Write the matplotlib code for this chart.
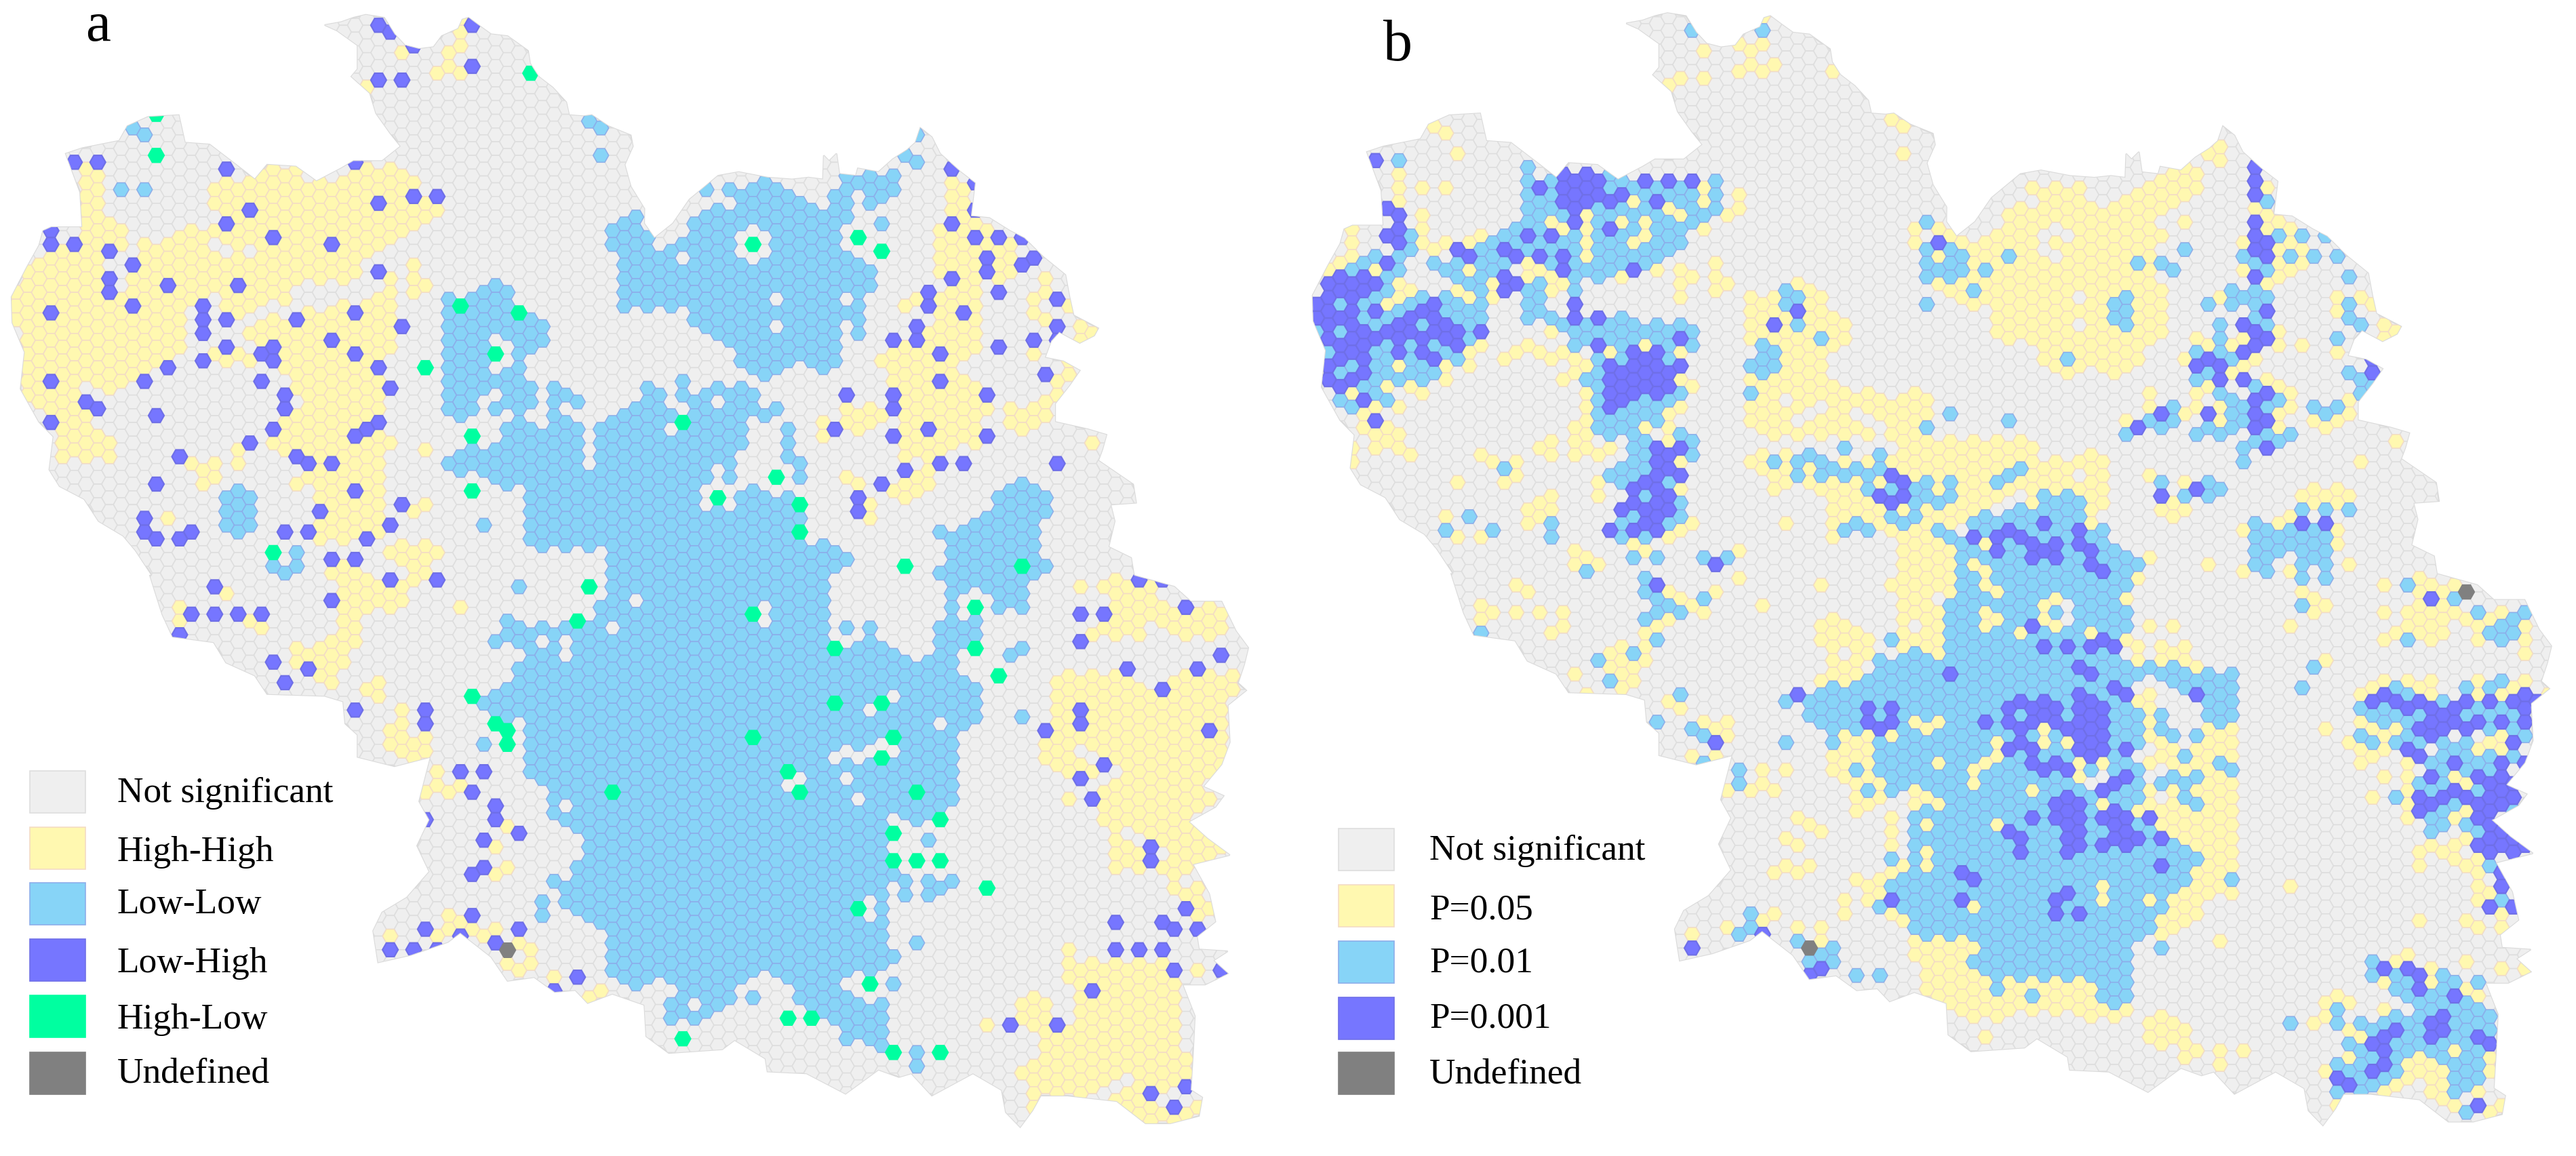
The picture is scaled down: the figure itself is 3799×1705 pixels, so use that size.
import numpy as np
import matplotlib
matplotlib.use("Agg")
import matplotlib.pyplot as plt
from matplotlib.collections import PolyCollection
from matplotlib.patches import PathPatch, Rectangle
from matplotlib.path import Path

plt.rcParams['font.family'] = ['Liberation Serif', 'DejaVu Serif']

LEGEND_A = ['Not significant', 'High-High', 'Low-Low', 'Low-High', 'High-Low', 'Undefined']
LEGEND_B = ['Not significant', 'P=0.05', 'P=0.01', 'P=0.001', 'Undefined']
COLORS = {'G': '#EFEFEF', 'Y': '#FFF8B0', 'L': '#87D4F7', 'P': '#7676FF', 'H': '#00FFA0', 'U': '#808080'}
EDGES = {'G': '#DEDEDE', 'Y': '#F3DCC4', 'L': '#8CAEEA', 'P': '#6F6FE8', 'H': '#00FFA0', 'U': '#808080'}
EDGE_WIDTHS = {'G': 1.1, 'Y': 1.1, 'L': 1.1, 'P': 1.6, 'H': 1.6, 'U': 1.6}

# Readings are stored per picture quadrant: (quadrant, x, y)
Q = {1: (0, 0, 1.65, 1.845), 2: (950, 0, 1.65, 1.845), 3: (0, 850, 1.65, 1.832), 4: (950, 850, 1.65, 1.832),
     5: (1900, 0, 1.65, 1.845), 6: (2850, 0, 1.652, 1.845), 7: (1900, 850, 1.65, 1.832), 8: (2850, 850, 1.652, 1.832),
     9: (2550, 650, 2.0907, 1.845), 10: (3380, 840, 3.0, 2.8)}

OUTLINE = [
 (1, [(790,70),(830,62),(860,50),(890,42),(935,50),(960,95),(985,125),(1020,135),(1055,130),(1075,100),(1115,80),(1125,55),(1140,50),(1170,75),(1195,95),(1235,100),(1285,140),(1290,175),(1310,210),(1345,240),(1378,280),(1385,315),(1420,318),(1440,315),(1480,345),(1535,370),(1540,400),(1520,450),(1535,510),(1568,570)]),
 (2, [(0,610),(25,650),(70,610),(110,545),(180,480),(230,470),(300,485),(360,490),(400,485),(435,490),(437,425),(450,440),(468,420),(475,475),(515,480),(520,460),(570,470),(605,435),(640,410),(660,390),(672,350),(700,375),(720,420),(770,470),(805,500),(795,590),(840,595),(890,630),(925,650),(970,700),(1025,750),(1035,810),(1045,860),(1105,895),(1095,915),(1060,935),(1010,905),(990,930),(975,975),(1020,985),(1060,1010),(1035,1050),(1000,1100),(1000,1150),(1080,1170),(1125,1185),(1115,1225),(1105,1255),(1190,1320),(1197,1370),(1135,1375),(1145,1420),(1130,1490),(1185,1520),(1192,1568)]),
 (4, [(1290,30),(1330,70),(1405,70),(1440,150),(1470,195),(1460,240),(1445,290),(1465,310),(1420,350),(1425,450),(1405,510),(1360,570),(1410,595),(1390,625),(1325,665),(1370,710),(1425,755),(1335,780),(1375,860),(1390,935),(1345,975),(1350,1010),(1420,1015),(1385,1040),(1420,1075),(1365,1105),(1310,1105),(1340,1190),(1335,1300),(1330,1390),(1358,1410),(1350,1460),(1280,1480),(1220,1480),(1150,1420),(1030,1405),(965,1405),(945,1445),(915,1490),(880,1450),(870,1390),(800,1345),(700,1405),(650,1345),(620,1355),(570,1335),(490,1400),(395,1345),(300,1340),(295,1305),(220,1255),(190,1280),(60,1290),(5,1245)]),
 (3, [(1568,1160),(1490,1130),(1430,1155),(1400,1120),(1350,1125),(1300,1085),(1235,1095),(1195,1030),(1120,965),(1090,990),(1000,1025),(920,1045),(908,960),(930,910),(990,870),(1045,800),(1015,730),(1045,660),(1020,610),(1048,490),(960,515),(870,490),(870,430),(840,400),(835,340),(790,325),(650,320),(620,270),(550,235),(520,180),(420,165),(395,105),(365,0)]),
 (1, [(370,1568),(330,1500),(300,1460),(240,1420),(205,1360),(145,1325),(120,1280),(130,1190),(95,1150),(50,1060),(60,960),(30,880),(28,810),(65,730),(95,670),(105,630),(125,620),(200,620),(195,525),(160,420),(200,405),(290,385),(310,345),(360,320),(435,315),(450,390),(510,395),(580,455),(620,490),(650,450),(720,455),(770,495),(830,460),(860,440),(930,440),(975,400),(950,365),(915,310),(900,255),(855,210),(870,190),(870,125),(820,85)]),
]

# ---------- Panel a: Local Moran cluster classes ----------
A_YELLOW_AREAS = [
 (1, [(195,450),(255,450),(255,570),(315,640),(315,670),(200,680),(175,570)]),
 (1, [(20,820),(70,720),(100,680),(250,670),(250,800),(310,790),(330,660),(420,640),(510,610),(510,700),(700,700),(700,820),(620,830),(590,900),(510,800),(450,860),(455,930),(420,970),(340,1010),(310,1085),(250,1050),(180,1050),(190,1100),(255,1170),(280,1250),(145,1250),(125,1270),(130,1190),(100,1130),(50,1060),(60,960),(30,880)]),
 (1, [(510,520),(540,470),(620,495),(655,450),(720,455),(770,500),(830,470),(865,455),(950,440),(1025,490),(1025,520),(1080,555),(1080,590),(1040,610),(990,640),(940,660),(940,690),(880,690),(880,760),(800,770),(740,760),(700,810),(640,810),(640,700),(510,640),(530,600)]),
 (1, [(600,880),(620,890),(710,850),(800,830),(880,830),(910,800),(960,740),(970,900),(965,950),(880,1000),(940,1040),(940,1150),(870,1160),(960,1190),(940,1250),(940,1450),(850,1470),(770,1470),(770,1340),(710,1320),(710,1290),(790,1280),(700,1260),(650,1220),(650,1180),(690,1110),(740,1100),(680,1020),(650,940),(600,920)]),
 (1, [(950,1470),(980,1470),(1065,1490),(1065,1510),(1035,1568),(950,1530),(935,1510)]),
 (1, [(790,1550),(880,1530),(880,1568),(770,1568)]),
 (3, [(770,0),(1020,0),(1000,60),(990,100),(880,90),(880,180),(850,200),(850,230),(820,250),(820,285),(780,300),(760,280),(710,220),(720,195),(820,170),(820,90),(840,30)]),
 (3, [(940,415),(1050,435),(1050,470),(1000,510),(940,480)]),
 (2, [(735,490),(790,490),(790,590),(825,610),(880,640),(905,680),(905,740),(860,770),(820,770),(820,900),(820,950),(790,980),(740,1000),(740,1010),(790,1020),(820,1040),(850,1100),(820,1130),(820,1200),(790,1220),(730,1235),(700,1260),(710,1310),(650,1360),(620,1360),(590,1340),(565,1360),(590,1380),(550,1415),(535,1360),(620,1300),(680,1260),(620,1250),(620,1130),(590,1120),(590,1020),(565,975),(620,920),(705,900),(705,830),(620,840),(650,800),(730,790),(705,740)]),
 (4, [(1110,0),(1250,0),(1250,60),(1320,80),(1410,80),(1435,170),(1280,175),(1265,130),(1220,140),(1220,170),(1080,170),(1080,130),(1140,100),(1110,50)]),
 (4, [(990,300),(1030,260),(1140,260),(1220,310),(1250,280),(1300,255),(1425,260),(1465,310),(1425,350),(1425,450),(1405,510),(1360,570),(1410,595),(1330,660),(1420,740),(1425,760),(1335,780),(1390,930),(1345,940),(1300,880),(1280,820),(1250,790),(1130,810),(1140,690),(1100,680),(1100,560),(1020,540),(990,530),(960,470),(990,400)]),
 (4, [(1020,1000),(1050,1000),(1050,1050),(1130,1030),(1270,1040),(1310,1100),(1310,1300),(1335,1300),(1330,1390),(1358,1410),(1350,1460),(1280,1480),(1220,1480),(1150,1420),(1030,1405),(965,1405),(945,1445),(930,1430),(930,1370),(905,1340),(965,1300),(960,1240),(905,1190),(905,1150),(950,1125),(990,1160),(1040,1220),(1060,1170),(1020,1080)]),
]
A_BLUE_AREAS = [
 (1, [(535,1360),(565,1340),(620,1325),(625,1470),(560,1450),(535,1420)]),
 (1, [(1075,800),(1140,800),(1190,760),(1250,780),(1250,810),(1225,850),(1310,850),(1338,880),(1338,925),(1285,960),(1285,1030),(1310,1060),(1340,1040),(1420,1080),(1420,1100),(1360,1120),(1300,1110),(1240,1120),(1165,1130),(1100,1160),(1075,1120)]),
 (1, [(1075,1250),(1140,1215),(1220,1220),(1200,1160),(1240,1140),(1290,1140),(1340,1120),(1420,1140),(1425,1270),(1445,1270),(1450,1140),(1568,1100),(1568,1568),(1480,1568),(1480,1490),(1370,1510),(1280,1470),(1280,1340),(1190,1300),(1140,1300),(1075,1265)]),
 (1, [(1474,620),(1545,575),(1568,600),(1568,850),(1510,850),(1505,680),(1474,680)]),
 (2, [(0,610),(25,680),(90,650),(110,590),(190,570),(250,500),(300,490),(340,520),(420,570),(510,500),(480,480),(620,470),(625,530),(565,570),(510,545),(510,600),(480,600),(480,680),(565,720),(565,790),(540,800),(540,915),(480,930),(480,990),(420,1030),(380,1000),(290,1030),(220,980),(220,950),(130,920),(110,850),(0,850)]),
 (2, [(0,1050),(50,1050),(80,1090),(135,1060),(250,1050),(280,1030),(280,1100),(340,1100),(310,1140),(250,1130),(250,1210),(225,1220),(225,1300),(140,1320),(170,1360),(220,1330),(320,1330),(390,1340),(395,1470),(480,1490),(510,1510),(480,1568),(0,1568)]),
 (2, [(850,1330),(890,1310),(960,1310),(995,1330),(995,1400),(965,1420),(965,1500),(995,1520),(995,1545),(960,1568),(740,1568),(735,1450),(790,1420),(850,1380)]),
 (4, [(0,0),(450,0),(450,170),(500,210),(520,165),(590,170),(600,210),(665,250),(710,200),(710,110),(765,110),(790,120),(850,125),(800,170),(765,200),(765,260),(825,280),(825,410),(765,420),(765,600),(740,650),(650,670),(595,650),(595,800),(620,800),(590,880),(560,880),(590,960),(595,1000),(565,1020),(590,1060),(520,1080),(480,1090),(520,1130),(590,1130),(595,1260),(590,1290),(450,1210),(360,1130),(300,1070),(250,1090),(220,1130),(200,1160),(165,1170),(150,1210),(50,1210),(50,1150),(80,1110),(0,1105)]),
 (4, [(705,0),(935,0),(935,85),(905,105),(850,85),(850,50),(790,30),(765,50),(760,100),(735,80),(735,30)]),
 (3, [(1568,0),(1480,0),(1450,100),(1400,130),(1230,120),(1190,165),(1250,170),(1280,230),(1250,265),(1190,300),(1160,345),(1225,400),(1280,400),(1280,540),(1340,600),(1340,670),(1420,680),(1420,780),(1390,790),(1390,830),(1340,820),(1340,850),(1420,930),(1475,970),(1480,1050),(1510,1110),(1568,1110)]),
]
A_GREY_CELLS = {
 1: [(1207,920),(1235,957),(1207,993),(1235,975),(1178,1085),(1207,1067),(1320,1067),(1380,1103),(1320,1140)],
 2: [(92,700),(264,627),(235,645),(292,645),(235,683),(292,683),(264,702),(323,812),(323,885),(493,812),(493,885),(207,553),(522,540),(80,1100),(108,1120),(52,1160),(108,1160),(80,1178),(178,1085),(178,1300),(150,1320),(207,1320),(150,1360),(207,1360),(323,1325)],
 3: [(1490,125),(1320,195),(1378,195),(1378,232),(1378,630),(1378,810),(1550,50)],
 4: [(295,68),(295,105),(607,340),(550,378),(722,415),(465,505),(493,487),(520,505),(550,487),(578,470),(607,487),(493,542),(520,615),(380,560),(352,580),(550,875),(550,925),(550,1147),(122,1162),(237,1128),(493,1108),(521,1090),(65,1125),(37,1108),(807,35),(1120,560),(1150,540),(1063,490),(1092,487),(1035,560),(1178,690),(1207,707),(1265,760),(1320,833),(1178,1365),(1150,1382),(1120,1400),(1090,1410),(1290,1400),(1265,1420),(1320,1420)],
}
A_YELLOW_CELLS = {
 1: [(1007,720),(1007,757),(1007,793),(1035,775),(950,757),(950,793),(1035,1215),(577,1215),(577,1250),(465,1250),(493,1268),(522,1250),(522,1285),(493,1305),(408,1398),(1035,1360),(1007,1380),(550,975),(577,957),(522,957),(607,975),(979,148),(1063,205),(1092,150),(1120,130),(1092,185),(1120,205),(1120,95),(890,240),(1127,70)],
 2: [(493,1105),(550,1105),(493,1140),(520,1122),(548,1140),(577,1122),(435,1140),(435,1178),(520,1160),(493,1288),(522,1305),(979,757),(950,812),(979,812),(950,848),(979,867),(950,957),(1035,848),(1063,885),(1092,900),(1063,915),(1035,1000),(1007,1030),(1035,1030),(1007,1067),(979,1085),(950,1105),(893,1105),(921,1122),(893,1140),(979,1122),(950,1140),(921,1160),(1092,1195)],
 3: [(1120,68),(552,33),(437,68),(437,105),(607,140),(635,125),(892,322),(920,305),(920,340),(979,377),(979,415),(1063,540),(1063,577),(1035,597),(1092,597),(1120,577),(1235,688),(1207,743),(1207,815),(1235,797),(1092,925),(1120,945),(1063,980),(1092,962),(1150,962),(1178,980),(1207,962),(950,980),(1265,1000),(1292,1020),(1235,1055),(1265,1072),(1292,1055),(1350,1090),(1435,1140),(1462,1125)],
 4: [(1063,15),(1035,615),(835,1218),(1350,1072)],
}
A_BLUE_CELLS = {
 1: [(352,370),(324,355),(296,517),(352,517),(1434,333),(1462,352),(1462,425),(680,1510),(710,1510),(665,1530),(694,1550),(722,1530),(1178,1416)],
 2: [(578,608),(207,517),(152,527),(637,430),(665,443),(672,370),(94,1030),(94,1067),(152,1067),(207,1067),(352,1160),(352,1195),(352,1232),(380,1250),(380,1288),(722,1435),(722,1545)],
 3: [(1265,15),(1178,470),(1350,832),(1320,888),(1320,925),(1265,125),(1207,160)],
 4: [(493,125),(550,125),(520,180),(265,1145),(920,397),(892,232),(920,212),(635,835),(635,870),(693,835),(693,870),(722,852),(750,835),(693,725),(578,908),(578,985),(607,1035),(578,1055),(607,1108),(665,1000),(665,1290),(665,1330),(578,1270),(493,1255)],
}
A_LOW_HIGH_CELLS = {
 1: [(551,461),(610,572),(551,608),(666,646),(807,664),(922,553),(1007,535),(1065,535),(125,630),(125,664),(181,664),(267,683),(324,719),(267,757),(267,794),(409,774),(580,774),(922,738),(324,830),(125,848),(494,830),(494,867),(551,867),(494,903),(722,867),(864,848),(979,885),(807,920),(551,938),(637,957),(666,938),(666,975),(864,957),(409,993),(494,975),(922,993),(352,1030),(125,1030),(637,1030),(951,1048),(694,1067),(694,1104),(210,1085),(238,1104),(380,1122),(125,1140),(666,1159),(922,1140),(893,1159),(864,1177),(610,1195),(437,1232),(722,1232),(751,1250),(807,1250),(380,1305),(864,1324),(979,1360),(779,1380),(352,1398),(352,1435),(380,1453),(437,1453),(465,1435),(951,1416),(694,1435),(751,1435),(893,1453),(807,1508),(864,1508),(947,95),(1150,185),(922,222),(979,222),(1007,140),(864,452),(181,443),(238,443),(920,55),(1140,55),(205,405)],
 2: [(749,462),(807,645),(863,645),(749,608),(914,655),(835,700),(835,738),(749,757),(918,718),(945,700),(863,793),(693,793),(693,830),(1007,812),(778,848),(665,885),(1007,885),(607,920),(665,920),(950,920),(863,938),(722,957),(978,1012),(722,1030),(493,1067),(607,1067),(607,1105),(835,1067),(465,1160),(693,1160),(607,1178),(835,1178),(722,1250),(778,1250),(1007,1250),(635,1270),(578,1305),(522,1343),(522,1380),(795,495),(795,570),(1000,920)],
 3: [(522,15),(807,50),(465,87),(522,87),(580,87),(637,87),(950,0),(1063,0),(437,170),(665,250),(750,268),(694,305),(864,378),(1036,378),(1036,415),(1122,542),(1178,542),(1150,597),(1207,633),(1207,670),(1265,707),(1178,725),(1178,797),(1150,815),(1150,925),(1036,962),(1265,962),(950,1018),(1207,1000),(1405,1090),(1040,670),(1005,1015),(1353,1118),(1060,1005),(1110,975)],
 4: [(1063,88),(1120,88),(1063,160),(1205,5),(1262,5),(1320,70),(1405,197),(1177,268),(1349,268),(1263,323),(1063,378),(1063,415),(978,433),(1378,433),(1120,523),(1063,560),(1092,615),(1234,743),(1234,780),(1320,908),(1149,945),(1262,945),(1292,963),(1345,965),(1149,1018),(1205,1018),(1262,1018),(1292,1072),(1403,1072),(1092,1127),(890,1218),(1007,1218),(1233,1403),(1292,1439),(1315,1385),(1325,1480)],
}
A_HIGH_LOW_CELLS = {
 1: [(380,425),(1120,830),(1264,850),(1207,957),(1036,993),(1149,1177),(1149,1325),(666,1490),(1290,205),(375,325)],
 2: [(264,665),(522,646),(578,683),(94,1140),(323,1288),(178,1343),(380,1362),(380,1435),(635,1527),(920,1555)],
 3: [(1433,15),(1405,105),(1150,342),(1207,415),(1237,432),(1237,470),(1490,597)],
 4: [(264,88),(807,70),(465,180),(807,213),(863,287),(465,360),(578,360),(264,450),(607,450),(578,507),(352,542),(380,598),(665,598),(722,670),(607,707),(607,780),(665,780),(722,780),(835,853),(520,908),(550,1108),(352,1200),(408,1200),(94,1255),(607,1290),(722,1290)],
}
A_UNDEFINED_CELLS = {2: [(544,453)], 3: [(1237,1018)]}

# ---------- Panel b: significance classes ----------
B_YELLOW_AREAS = [
 (5, [(1115,800),(1170,790),(1240,760),(1285,800),(1340,850),(1370,880),(1370,920),(1310,960),(1300,1010),(1340,1050),(1450,1070),(1450,1110),(1568,1050),(1568,1568),(1310,1500),(1310,1340),(1280,1320),(1200,1310),(1180,1230),(1110,1260),(1160,1200),(1110,1150),(1110,1000),(1140,950),(1110,900)]),
 (6, [(145,620),(210,560),(230,500),(260,495),(370,510),(400,560),(520,500),(520,480),(650,440),(685,420),(710,360),(715,445),(660,460),(660,520),(600,570),(540,570),(545,800),(575,780),(575,900),(520,930),(520,990),(440,1030),(370,1010),(300,1030),(260,990),(255,940),(150,920),(140,850),(0,790),(0,600),(30,600),(50,640),(100,650),(115,640)]),
 (6, [(810,590),(870,600),(900,640),(950,700),(950,720),(900,750),(900,800),(870,770),(815,790),(835,720),(835,660),(810,640)]),
 (8, [(1110,130),(1160,50),(1310,30),(1340,100),(1340,150),(1450,120),(1460,200),(1420,210),(1340,170),(1240,170),(1110,170)]),
]
B_BLUE_AREAS = [
 (5, [(100,740),(180,700),(225,660),(310,600),(315,680),(260,760),(260,790),(340,800),(490,740),(490,870),(430,950),(420,990),(345,1040),(270,1040),(260,1090),(190,1110),(150,1150),(110,1080),(85,1050),(60,930),(60,810)]),
 (5, [(340,700),(400,700),(500,640),(570,600),(570,480),(660,480),(770,460),(800,490),(1060,480),(1060,590),(1000,600),(970,650),(910,720),(800,760),(700,770),(700,810),(650,760),(570,720),(400,760),(340,730)]),
 (5, [(570,720),(620,760),(620,850),(690,870),(810,850),(860,880),(1000,880),(1000,960),(950,960),(970,1060),(915,1120),(880,1190),(770,1190),(740,1150),(740,1090),(710,1030),(740,1000),(740,950),(680,950),(680,890),(570,880)]),
 (5, [(825,1190),(880,1190),(1000,1180),(1000,1210),(970,1300),(970,1420),(900,1470),(800,1450),(825,1330),(770,1310),(770,1270),(825,1270)]),
 (5, [(1140,940),(1170,920),(1197,950),(1197,1000),(1160,1030),(1110,1000)]),
 (5, [(1210,780),(1255,800),(1240,840),(1180,845),(1170,830)]),
 (6, [(770,1430),(830,1415),(970,1415),(970,1510),(940,1530),(840,1510),(840,1568),(770,1568)]),
 (8, [(1090,1060),(1160,1060),(1330,1090),(1340,1130),(1370,1200),(1370,1290),(1340,1370),(1340,1420),(1255,1400),(1255,1340),(1150,1300),(1130,1370),(1030,1400),(970,1420),(970,1330),(1000,1260),(1060,1215),(1180,1170),(1140,1130),(1090,1110)]),
]
B_DARK_AREAS = [
 (5, [(60,810),(100,760),(115,740),(225,760),(225,790),(170,800),(170,880),(210,880),(290,870),(330,830),(370,815),(370,860),(430,900),(430,945),(365,990),(320,960),(250,970),(200,950),(190,1030),(130,1060),(85,1060),(85,985),(110,950),(90,910),(60,870)]),
 (5, [(680,460),(750,470),(770,510),(740,560),(710,620),(680,600),(650,560),(650,490)]),
 (5, [(745,925),(770,920),(770,970),(830,990),(840,940),(860,960),(880,970),(915,940),(915,1000),(945,1040),(945,1090),(910,1080),(840,1080),(830,1130),(770,1120),(770,1030)]),
 (5, [(885,1210),(970,1200),(945,1240),(970,1270),(970,1300),(945,1320),(945,1390),(915,1450),(880,1470),(830,1440),(800,1380),(830,1350),(825,1310),(860,1310),(885,1290)]),
]
B_GREY_CELLS = {
 5: [(1210,1105),(1240,1160),(1268,1140),(1297,1100),(1382,1140),(1410,1160),(1440,1160),(240,680)],
 6: [(290,625),(260,645),(320,645),(260,683),(300,700),(357,810),(357,885),(230,550),(130,1100),(130,1150),(100,1155),(157,1155)],
}
B_YELLOW_CELLS = {
 5: [(1010,145),(1125,145),(1153,125),(1097,130),(1125,182),(1097,200),(1153,200),(1182,182),(955,218),(1010,218),(925,235),(1322,200),(1155,55),(1468,330),(1497,350),(1497,423),(413,423),(385,367),(355,350),(327,517),(385,517),(270,480),(270,517),(270,550),(212,555),(327,590),(1097,535),(1097,572),(1068,590),(1012,627),(1040,720),(1040,757),(1068,775),(1040,793),(955,738),(955,775),(983,757),(955,812),(897,738),(813,757),(157,627),(157,665),(157,700),(128,700),(100,720),(213,738),(240,830),(270,775),(297,775),(297,810),(270,810),(157,1063),(270,993),(240,1048),(297,1048),(327,1063),(212,1100),(385,1030),(385,990),(440,990),(440,960),(468,938),(440,738),(413,793),(440,812),(500,775),(500,812),(270,1100),(185,1120),(185,1155),(240,1155),(212,1175),(270,1175),(240,1195),(270,1210),(297,1230),(212,1210),(160,1210),(160,1265),(355,685),(327,610),(327,645),(385,660),(440,645),(468,642),(640,610),(668,625),(583,720),(612,735),(583,755),(640,770),(640,810),(668,790),(640,905),(725,590),(725,625),(725,665),(725,700),(842,550),(812,625),(842,680),(870,600),(870,640),(927,570),(955,590),(1012,510),(1012,550),(783,957),(870,938),(955,957),(955,1030),(983,1048),(925,1120),(955,1100),(925,1157),(868,1157),(925,1195),(955,1250),(955,1325),(983,1420),(955,1440),(925,1450),(753,1305),(753,1340),(842,1470),(868,1490),(640,1195),(612,1215),(697,1157),(725,1157),(697,1195),(725,1195),(725,1230),(697,1230),(755,1232),(783,1230),(640,1230),(468,1230),(497,1248),(555,1248),(525,1305),(555,1305),(413,1305),(610,1360),(640,1345),(583,1380),(612,1398),(583,1420),(640,1380),(383,1398),(413,1450),(468,1450),(697,1490),(725,1508),(697,1525),(755,1538),(525,975),(555,957),(583,938),(612,957),(640,975),(668,957),(697,975),(697,1030),(725,993),(668,1030),(725,1067),(725,1103),(725,1140),(1525,630),(1525,665),(1210,1415)],
 6: [(815,515),(785,570),(815,590),(757,660),(757,735),(815,772),(700,810),(843,900),(843,938),(900,938),(985,957),(985,810),(985,848),(1042,810),(1070,828),(1100,885),(1130,900),(1100,915),(1130,1195),(1042,1248),(1013,1085),(928,1137),(957,1157),(985,1137),(1013,1118),(642,920),(670,938),(728,938),(757,918),(757,993),(785,975),(728,1012),(815,1030),(843,1048),(872,1065),(872,1100),(843,1120),(843,1157),(700,1100),(700,1137),(643,1065),(672,1065),(643,1100),(530,1065),(530,1100),(615,1120),(472,1137),(615,975),(670,1192),(700,1212),(670,1230),(700,1250),(670,1268),(728,1268),(728,1305),(700,1285),(528,1285),(615,1305),(557,1380),(587,1360),(587,1398),(615,1380),(700,440),(672,425),(558,645),(615,605),(900,1340),(928,1322),(985,1322),(1013,1340),(957,1340),(928,1378),(985,1378),(872,1395),(843,1415),(757,1435),(985,1435),(985,1470),(1013,1525),(957,1525),(872,1540),(670,1525),(757,1540),(528,1505),(443,1490)],
 7: [(555,15),(583,30),(468,68),(497,87),(468,105),(555,87),(612,87),(668,87),(640,140),(668,122),(697,250),(725,305),(783,195),(812,178),(783,232),(812,215),(840,232),(870,215),(812,250),(840,270),(812,287),(870,142),(870,178),(897,122),(925,105),(925,33),(955,50),(983,68),(1012,87),(1040,33),(925,322),(955,342),(1012,378),(1068,378),(1068,415),(1040,432),(1068,450),(983,470),(1152,542),(1152,577),(1125,597),(1182,597),(1070,597),(1212,542),(1240,632),(1240,670),(1268,688),(1297,707),(1212,725),(1240,743),(1183,815),(1212,797),(1240,815),(1268,797),(1182,925),(1155,942),(983,980),(1068,962),(1238,962),(1297,962),(1297,998),(1040,497),(1468,1135),(1497,1120),(1383,1120)],
 8: [(157,1095),(185,1122),(214,1105),(243,1105),(272,1090),(300,1145),(100,1160),(128,1178),(157,1160),(100,1203),(157,1203),(185,1178),(128,1258),(385,1203),(443,1195),(528,1215),(557,1198),(585,1215),(612,1215),(528,1250),(557,1232),(585,1250),(612,1250),(557,1268),(612,1285),(643,1295),(700,1295),(757,1295),(700,1332),(1070,1015),(1155,1035),(1240,1015),(1300,1015),(1300,1050),(1213,1050),(1125,1055),(1098,1105),(1212,1110),(1300,1120),(1328,1150),(985,1145),(957,1160),(1013,1160),(957,1195),(928,1220),(1013,1235),(1040,1250),(1100,1180),(1015,1305),(957,1350),(1270,1295),(1157,1322),(1185,1305),(1213,1322),(1240,1340),(1157,1360),(1185,1342),(1213,1360),(1240,1378),(1130,1380),(1100,1400),(1213,1395),(1240,1430),(1270,1440),(1357,1305),(1357,1342),(1328,1395),(1385,1440),(1357,1460),(983,1440),(1385,1075),(1440,1075)],
}
B_BLUE_CELLS = {
 5: [(127,828),(127,903),(155,993),(127,1010),(270,848),(185,830),(185,860),(212,885),(327,885),(240,940),(210,960),(240,975),(297,940),(355,935),(385,955),(925,1300),(870,1340),(840,1395),(925,1410),(270,438),(982,90),(1155,92),(583,460),(525,1268),(440,1395),(383,1435),(497,1435),(640,1415),(640,1450),(810,1450),(842,1508),(897,1508),(725,1545),(1012,1505),(1068,1505),(1125,1065),(1240,882),(1297,920),(1182,1248),(983,1193),(870,1557),(1240,1248),(1268,1230),(1240,1285),(1297,1248),(1297,1285),(1325,1268),(1355,1285),(1382,1268),(1410,1285),(1440,1230),(1410,1322),(1440,1305),(1355,1212),(1467,1395),(1497,1415),(1525,1395),(1525,1340),(1555,1360),(1555,1322),(1355,1435),(1382,1415),(1410,1435),(1555,1157),(1525,1322),(1550,605),(1550,680),(1550,715),(1550,752),(1550,828)],
 6: [(43,680),(72,700),(43,717),(72,735),(15,735),(43,755),(128,737),(185,700),(100,790),(44,1118),(185,1138),(214,1192),(214,1267),(185,1285),(157,1303),(44,1303),(44,1340),(15,1360),(500,717),(557,717),(587,735),(615,680),(472,828),(443,828),(472,810),(472,846),(443,864),(472,882),(330,975),(815,550),(843,645),(900,645),(757,700),(785,717),(815,735),(870,700),(928,700),(985,700),(1013,755),(1013,828),(1013,865),(1042,882),(985,918),(728,790),(757,810),(785,790),(815,810),(728,828),(785,828),(670,828),(785,865),(815,882),(700,882),(700,918),(700,957),(643,957),(728,975),(643,1030),(670,1012),(785,1048),(700,1065),(728,1085),(757,1103),(728,1122),(757,1140),(728,1160),(670,1157),(643,1175),(700,1175),(728,1192),(757,1212),(757,1248),(785,1192),(815,1175),(843,1192),(872,1175),(843,1085),(815,1100),(588,1100),(530,1137),(588,1137),(557,1157),(472,1175),(1013,1012),(1042,1030),(1070,1045),(1042,1065),(928,1100),(957,1118),(985,1100),(557,1303),(615,1340),(672,1303),(700,1322),(672,1340),(950,655),(900,1378),(957,1378),(1013,1378),(957,1555),(900,1555)],
 7: [(757,213),(842,195),(783,268),(897,378),(955,305),(897,158),(870,102),(897,48),(897,85),(925,68),(955,87),(870,33),(1012,48),(1012,415),(983,432),(1012,490),(1097,542),(1097,578),(1212,470),(1125,925),(1125,962),(1097,980),(468,168)],
 8: [(1185,1015),(1070,1050),(1070,1090),(985,1180),(985,1215),(872,1220),(1043,1215),(1300,1460),(985,1332),(985,1403),(1040,1350),(1070,1385)],
}
B_DARK_CELLS = {
 5: [(212,438),(240,570),(270,590),(240,640),(270,660),(270,620),(240,715),(612,515),(897,550),(783,550),(812,530),(870,495),(925,495),(983,495),(697,605),(583,642),(640,642),(783,625),(413,680),(440,698),(525,680),(555,698),(612,698),(668,698),(668,735),(525,755),(555,770),(525,790),(697,828),(697,865),(755,865),(842,738),(468,903),(1240,845),(1183,882),(955,918),(955,992),(183,1080),(212,1137),(783,1435),(1040,1525),(1467,1285),(1497,1305),(1440,1340),(1467,1360),(1497,1340),(212,848),(270,885),(330,848),(270,955),(325,955),(355,975)],
 6: [(15,662),(785,462),(785,497),(785,533),(785,607),(785,645),(815,662),(785,680),(815,700),(785,755),(815,845),(757,882),(785,900),(815,920),(785,938),(757,957),(643,993),(670,975),(700,993),(700,1030),(757,1028),(1070,993),(1070,1012),(815,1065),(785,1080),(785,1118),(785,1155),(815,1137),(557,1118),(672,1118),(500,1157),(815,1212),(557,1340),(643,1322),(900,1415),(957,1415)],
 7: [(897,15),(1040,468),(983,1018),(1145,975)],
 8: [(1100,1072),(1157,1072),(1185,1090),(1185,1130),(1270,1145),(1240,1198),(1213,1215),(1240,1235),(1213,1255),(1130,1238),(1100,1255),(1070,1275),(1100,1295),(1100,1332),(1070,1350),(985,1365),(1013,1385),(1328,1255),(1357,1275),(1328,1440)],
}
B_UNDEFINED_CELLS = {6: [(580,450)]}

# Closer readings of the centre of panel b (quadrant 9)
B9_RECT = (2550, 650, 3300, 1500)
B9_YELLOW_AREAS = [
 (9, [(100,20),(480,60),(520,0),(950,0),(950,60),(1170,30),(1170,180),(1120,230),(930,200),(930,130),(880,120),(840,180),(760,200),(700,250),(700,440),(660,480),(660,590),(520,570),(520,520),(510,300),(540,250),(300,270),(300,120),(120,130)]),
 (9, [(195,530),(280,480),(375,480),(450,520),(460,600),(500,600),(440,660),(280,660),(250,650),(300,630),(300,560),(250,510)]),
 (9, [(300,790),(520,790),(520,860),(480,870),(470,1000),(410,1040),(370,980),(370,950),(300,890)]),
 (9, [(480,1000),(530,1000),(530,1150),(480,1120)]),
 (9, [(540,930),(660,960),(660,990),(540,1010)]),
 (9, [(560,1340),(730,1320),(770,1400),(740,1450),(1100,1450),(1130,1500),(1100,1568),(580,1568),(590,1480)]),
 (9, [(1250,690),(1310,690),(1310,790),(1568,780),(1568,1240),(1470,1260),(1440,1300),(1400,1310),(1310,1360),(1240,1360),(1240,1568),(1130,1568),(1130,1530),(1240,1000),(1250,800)]),
]
B9_BLUE_AREAS = [
 (9, [(710,270),(740,200),(860,190),(950,180),(950,130),(1100,150),(1100,230),(1170,230),(1170,270),(1280,320),(1240,370),(1240,500),(1210,530),(1210,580),(1300,590),(1568,630),(1568,780),(1460,780),(1390,690),(1280,640),(1240,680),(1240,720),(1280,730),(1280,800),(1240,860),(1280,910),(1280,960),(1240,1000),(1280,1030),(1320,1060),(1380,1100),(1460,1150),(1430,1170),(1430,1220),(1320,1240),(1310,1360),(1240,1360),(1240,1500),(1230,1540),(1130,1540),(1130,1460),(1030,1470),(920,1470),(800,1460),(735,1440),(770,1400),(735,1350),(590,1360),(560,1330),(470,1300),(450,1260),(445,1200),(520,1170),(490,1130),(560,1120),(550,1010),(650,1000),(660,960),(540,940),(490,970),(490,900),(450,900),(450,830),(520,860),(520,790),(340,780),(300,800),(260,750),(220,720),(300,680),(390,650),(490,620),(530,570),(660,590),(660,460),(700,420)]),
]
B9_DARK_AREAS = [
 (9, [(1060,700),(1115,680),(1170,700),(1170,790),(1205,805),(1170,825),(1170,870),(1060,875),(1060,840),(990,825),(1025,790),(1060,780)]),
 (9, [(990,1000),(1043,970),(1100,1000),(1100,1060),(1060,1085),(1060,1140),(1030,1140),(1025,1060),(990,1060)]),
]
B9_GREY_CELLS = {9: [(1043,437),(1043,473),(1150,935),(1115,950),(645,415),(573,490),(357,565),(430,600),(1080,85),(1370,750),(1440,713),(1405,840),(1333,990),(1297,860),(1260,875),(1333,895),(1297,930)]}
B9_YELLOW_CELLS = {9: [(790,275),(755,325),(790,345),(790,380),(827,400),(790,455),(827,473),(790,490),(970,437),(1007,417),(970,473),(1007,490),(900,510),(1115,510),(1225,528),(570,750),(645,785),(610,803),(860,785),(970,803),(970,840),(900,840),(827,840),(827,875),(755,880),(790,895),(645,895),(755,950),(933,970),(1080,895),(1080,930),(1152,895),(1152,1005),(1260,1025),(1332,1025),(1187,657),(1043,840),(825,1062),(610,1060),(610,1105),(540,1170),(610,1170),(1150,1225),(1150,1262),(755,1285),(1297,490),(1370,490),(1260,545),(1333,545),(1405,545),(1260,583),(1333,583),(1370,565),(1405,583),(1440,600),(1297,307),(1478,325),(1260,362),(1225,415),(1300,85),(1405,105),(1333,178),(1370,160),(1405,178),(1370,195),(285,380),(103,437),(175,215),(32,290),(32,363),(500,380),(210,1010),(210,1045),(247,1062),(285,1080),(175,1100),(210,1118),(175,1172),(140,1190),(210,1190),(247,1172),(103,915),(175,915),(68,968),(103,950),(140,968),(357,1265),(357,1300),(393,1210),(430,1225),(430,1262),(465,1243),(500,1190),(140,1300),(103,1322),(210,1340),(283,1340),(283,1375),(465,1180),(500,1300),(537,1320),(68,48),(103,30),(103,68),(140,122),(175,85),(247,103),(283,122),(1513,1380),(1298,1265)]}
B9_BLUE_CELLS = {9: [(140,48),(210,48),(210,85),(247,30),(283,48),(283,85),(320,68),(357,85),(393,68),(430,103),(465,30),(465,68),(430,122),(500,122),(573,122),(610,103),(573,160),(610,160),(645,160),(680,105),(680,140),(500,195),(537,213),(573,195),(357,232),(393,213),(430,232),(357,13),(825,105),(860,85),(897,68),(645,232),(683,250),(175,695),(247,695),(247,732),(283,750),(320,732),(320,768),(393,768),(320,805),(175,840),(465,840),(500,855),(393,913),(465,913),(430,970),(500,970),(500,528),(465,583),(68,1305),(68,1340),(32,1358),(210,1375),(320,1393),(283,1410),(320,1430),(247,1430),(393,1468),(465,1468),(1333,105),(1478,105),(1405,140),(1515,122),(1478,140),(35,915),(35,950),(0,305),(1333,750),(1333,785),(1370,822),(1440,822),(1405,878),(1515,895),(1550,915),(1333,950),(1370,932),(1405,950),(1440,932),(1405,985),(1440,985),(1440,1005),(1333,1285),(1333,1395),(1297,1340),(1550,1208),(825,1505),(933,1525),(900,730)]}
B9_DARK_CELLS = {9: [(500,85),(537,103),(537,140),(500,158),(465,140),(755,250),(827,250),(860,232),(897,250),(933,268),(970,215),(1007,268),(970,288),(933,305),(827,288),(1007,305),(1080,232),(1080,268),(1115,288),(1115,325),(1152,343),(933,490),(970,545),(970,580),(1043,580),(1115,580),(1152,527),(1187,545),(1115,620),(1080,637),(683,620),(1225,675),(1187,692),(1440,675),(430,713),(500,713),(430,750),(465,768),(500,750),(790,750),(860,713),(897,695),(933,713),(970,695),(1007,713),(860,750),(933,750),(970,732),(1007,750),(897,768),(897,805),(860,860),(933,860),(933,895),(970,913),(1007,895),(1043,913),(1225,860),(1225,933),(1187,950),(1152,970),(1080,1115),(933,1045),(1152,1045),(1187,1025),(1225,1010),(1187,1062),(1187,1098),(1225,1080),(1260,1098),(1225,1115),(1152,1115),(1298,1045),(1333,1098),(860,1080),(897,1098),(897,1135),(1333,1172),(717,1190),(755,1210),(717,1265),(500,1265),(1043,1245),(1007,1265),(1007,1300),(1080,1300),(210,675),(85,1350),(283,1450),(258,1460),(1333,140),(1440,122)]}
B9_UNDEFINED_CELLS = {9: [(247,1393)]}

# Closer readings of the east edge of panel b (quadrant 10)
B10_RECT = (3380, 840, 3799, 1400)
B10_DARK_AREAS = [
 (10, [(540,610),(590,550),(745,550),(745,610),(850,590),(850,680),(740,680),(690,700),(640,720),(590,740),(540,690)]),
]
B10_YELLOW_CELLS = {10: [(408,47),(563,20),(615,47),(563,75),(665,75),(718,47),(45,75),(97,103),(147,131),(97,157),(0,215),(408,159),(510,159),(563,131),(615,159),(665,131),(718,159),(510,215),(563,187),(615,215),(665,187),(770,187),(822,215),(875,187),(925,159),(1030,215),(458,243),(563,243),(665,243),(408,271),(615,271),(822,271),(1030,271),(1030,327),(147,355),(408,439),(510,439),(615,439),(822,439),(1030,439),(355,467),(563,467),(978,467),(303,495),(615,495),(822,495),(925,495),(147,635),(303,607),(355,635),(458,635),(408,663),(250,690),(355,690),(458,690),(250,745),(303,718),(408,718),(303,775),(355,800),(303,830),(510,830),(510,885),(408,887),(510,940),(510,998),(510,1053),(355,970),(615,830),(718,830),(718,885),(770,912),(770,1025),(718,1053),(925,663),(875,690),(822,718),(925,718),(875,745),(615,1165),(563,1193),(665,1193),(718,1165),(770,1137),(718,1222),(770,1250),(822,1222),(563,1250),(822,1278),(822,1333),(875,1360),(822,1390),(925,1445),(563,1473),(770,1473),(822,1500),(0,1333),(925,1500),(1120,495)]}
B10_BLUE_CELLS = {10: [(45,20),(147,20),(510,47),(718,103),(45,131),(822,159),(1030,159),(978,187),(925,215),(875,243),(978,243),(925,271),(510,271),(97,383),(45,467),(925,439),(770,467),(875,467),(458,467),(510,495),(665,522),(303,550),(408,550),(355,578),(458,578),(563,578),(408,607),(510,607),(510,663),(303,663),(770,578),(822,550),(875,578),(925,550),(978,578),(875,635),(978,635),(1030,663),(770,690),(718,718),(770,745),(822,775),(875,800),(925,775),(978,745),(978,800),(665,745),(563,745),(615,775),(665,800),(770,800),(822,830),(770,857),(875,857),(665,857),(355,745),(458,745),(563,912),(615,940),(665,912),(822,940),(458,970),(718,998),(665,1025),(615,1053),(665,1080),(615,1108),(770,1080),(822,1108),(875,1250),(925,1390),(1030,690),(1000,990)]}
B10_DARK_CELLS = {10: [(615,103),(355,522),(408,495),(458,522),(510,550),(563,522),(615,550),(770,522),(718,550),(875,522),(978,522),(1030,495),(1030,550),(1085,522),(1030,607),(822,607),(925,607),(978,690),(718,775),(563,800),(510,718),(925,830),(615,885),(822,885),(718,940),(563,970),(563,1025),(1020,820),(770,970),(665,970),(615,998),(822,1053),(875,1137),(822,1165),(925,1250),(925,1278),(925,1333),(875,1417),(978,1417),(925,1165),(978,1137),(1030,1137),(978,1193),(1030,1165),(875,1193),(875,915),(925,885),(925,940),(978,915),(875,970),(925,998),(978,970),(822,998),(875,1025),(875,1080),(925,1108)]}
B10_UNDEFINED_CELLS = {10: [(770,75)]}


def to_px(q, pts):
    ox, oy, sx, sy = Q[q]
    a = np.asarray(pts, float)
    return np.c_[ox + a[:, 0] / sx, oy + a[:, 1] / sy]


outline_a = np.vstack([to_px(q, p) for q, p in OUTLINE])
GRID_A = dict(x0=23.4, dx=17.256, y0=8.0, dy=20.2)
GRID_B = dict(x0=1942.0, dx=17.30, y0=5.5, dy=20.2)
outline_b = np.c_[1918.8 + 1.0016 * outline_a[:, 0], outline_a[:, 1] - 2.5]


def paint(label, centres, yellow, blue, dark, cells):
    xs, ys = centres[:, 0], centres[:, 1]
    for code, areas in (('Y', yellow), ('L', blue), ('P', dark)):
        for q, poly in areas:
            label[Path(to_px(q, poly)).contains_points(centres)] = code
    for code, by_q in cells:
        for q, pts in by_q.items():
            for px, py in to_px(q, pts):
                label[np.argmin((xs - px) ** 2 + (ys - py) ** 2)] = code


def draw_panel(ax, outline, grid, yellow, blue, dark, cells, closer=()):
    x0, dx, y0, dy = grid['x0'], grid['dx'], grid['y0'], grid['dy']
    cc, rr = np.meshgrid(np.arange(-2, 112), np.arange(-1, 88))
    cc, rr = cc.ravel(), rr.ravel()
    xs = x0 + dx * cc
    ys = y0 + dy * rr + dy / 2 * (cc % 2)
    centres = np.c_[xs, ys]
    path = Path(np.vstack([outline, outline[0]]), closed=True)
    inside = path.contains_points(centres, radius=13) | path.contains_points(centres, radius=-13)
    label = np.full(len(xs), 'G', dtype='<U1')
    paint(label, centres, yellow, blue, dark, cells)
    for rect, y_a, l_a, p_a, c in closer:
        label[(xs >= rect[0]) & (xs <= rect[2]) & (ys >= rect[1]) & (ys <= rect[3])] = 'G'
        paint(label, centres, y_a, l_a, p_a, c)
    ax.add_patch(PathPatch(path, facecolor=COLORS['G'], edgecolor='#DADADA', lw=1.6, zorder=1))
    clip = PathPatch(path, transform=ax.transData, facecolor='none', edgecolor='none')
    ax.add_patch(clip)
    s = dx / 1.5
    hx = s * np.array([1, .5, -.5, -1, -.5, .5])
    hy = dy / 2 * np.array([0, 1, 1, 0, -1, -1])
    for z, code in enumerate(['G', 'Y', 'L', 'P', 'H', 'U']):
        m = inside & (label == code)
        if not m.any():
            continue
        polys = [np.c_[px + hx, py + hy] for px, py in centres[m]]
        pc = PolyCollection(polys, facecolors=COLORS[code], edgecolors=EDGES[code],
                            linewidths=EDGE_WIDTHS[code], zorder=2 + z)
        ax.add_collection(pc)
        pc.set_clip_path(clip)


fig = plt.figure(figsize=(37.99, 17.06), dpi=100)
ax = fig.add_axes([0, 0, 1, 1])
ax.set_xlim(0, 3799)
ax.set_ylim(1706, 0)
ax.axis('off')

draw_panel(ax, outline_a, GRID_A, A_YELLOW_AREAS, A_BLUE_AREAS, [],
           [('G', A_GREY_CELLS), ('Y', A_YELLOW_CELLS), ('L', A_BLUE_CELLS), ('P', A_LOW_HIGH_CELLS),
            ('H', A_HIGH_LOW_CELLS), ('U', A_UNDEFINED_CELLS)])
draw_panel(ax, outline_b, GRID_B, B_YELLOW_AREAS, B_BLUE_AREAS, B_DARK_AREAS,
           [('G', B_GREY_CELLS), ('Y', B_YELLOW_CELLS), ('L', B_BLUE_CELLS), ('P', B_DARK_CELLS),
            ('U', B_UNDEFINED_CELLS)],
           closer=[(B9_RECT, B9_YELLOW_AREAS, B9_BLUE_AREAS, B9_DARK_AREAS,
                    [('G', B9_GREY_CELLS), ('Y', B9_YELLOW_CELLS), ('L', B9_BLUE_CELLS), ('P', B9_DARK_CELLS),
                     ('U', B9_UNDEFINED_CELLS)]),
                   (B10_RECT, [], [], B10_DARK_AREAS,
                    [('Y', B10_YELLOW_CELLS), ('L', B10_BLUE_CELLS), ('P', B10_DARK_CELLS),
                     ('U', B10_UNDEFINED_CELLS)])])

legend_a_codes = ['G', 'Y', 'L', 'P', 'H', 'U']
legend_a_rows = [1137.7, 1221, 1303, 1386, 1468.5, 1552.5]
legend_a_base = [1183, 1270, 1347, 1434, 1517, 1597]
legend_b_codes = ['G', 'Y', 'L', 'P', 'U']
legend_b_rows = [1223.4, 1306, 1389, 1472, 1552.5]
legend_b_base = [1267.6, 1355, 1434, 1516, 1598]
for names, codes, rows, bases, bx, tx in ((LEGEND_A, legend_a_codes, legend_a_rows, legend_a_base, 43.6, 172.7),
                                          (LEGEND_B, legend_b_codes, legend_b_rows, legend_b_base, 1974, 2108)):
    for name, code, top, base in zip(names, codes, rows, bases):
        ax.add_patch(Rectangle((bx, top), 82, 62, facecolor=COLORS[code], edgecolor=EDGES[code], lw=1.2, zorder=10))
        ax.text(tx, base, name, fontsize=38.4, va='baseline', ha='left', color='black', zorder=11)

ax.text(145, 60, 'a', fontsize=60, ha='center', va='baseline', color='black')
ax.text(2062, 89, 'b', fontsize=62, ha='center', va='baseline', color='black')

fig.savefig('out.png', dpi=100, facecolor='white')
